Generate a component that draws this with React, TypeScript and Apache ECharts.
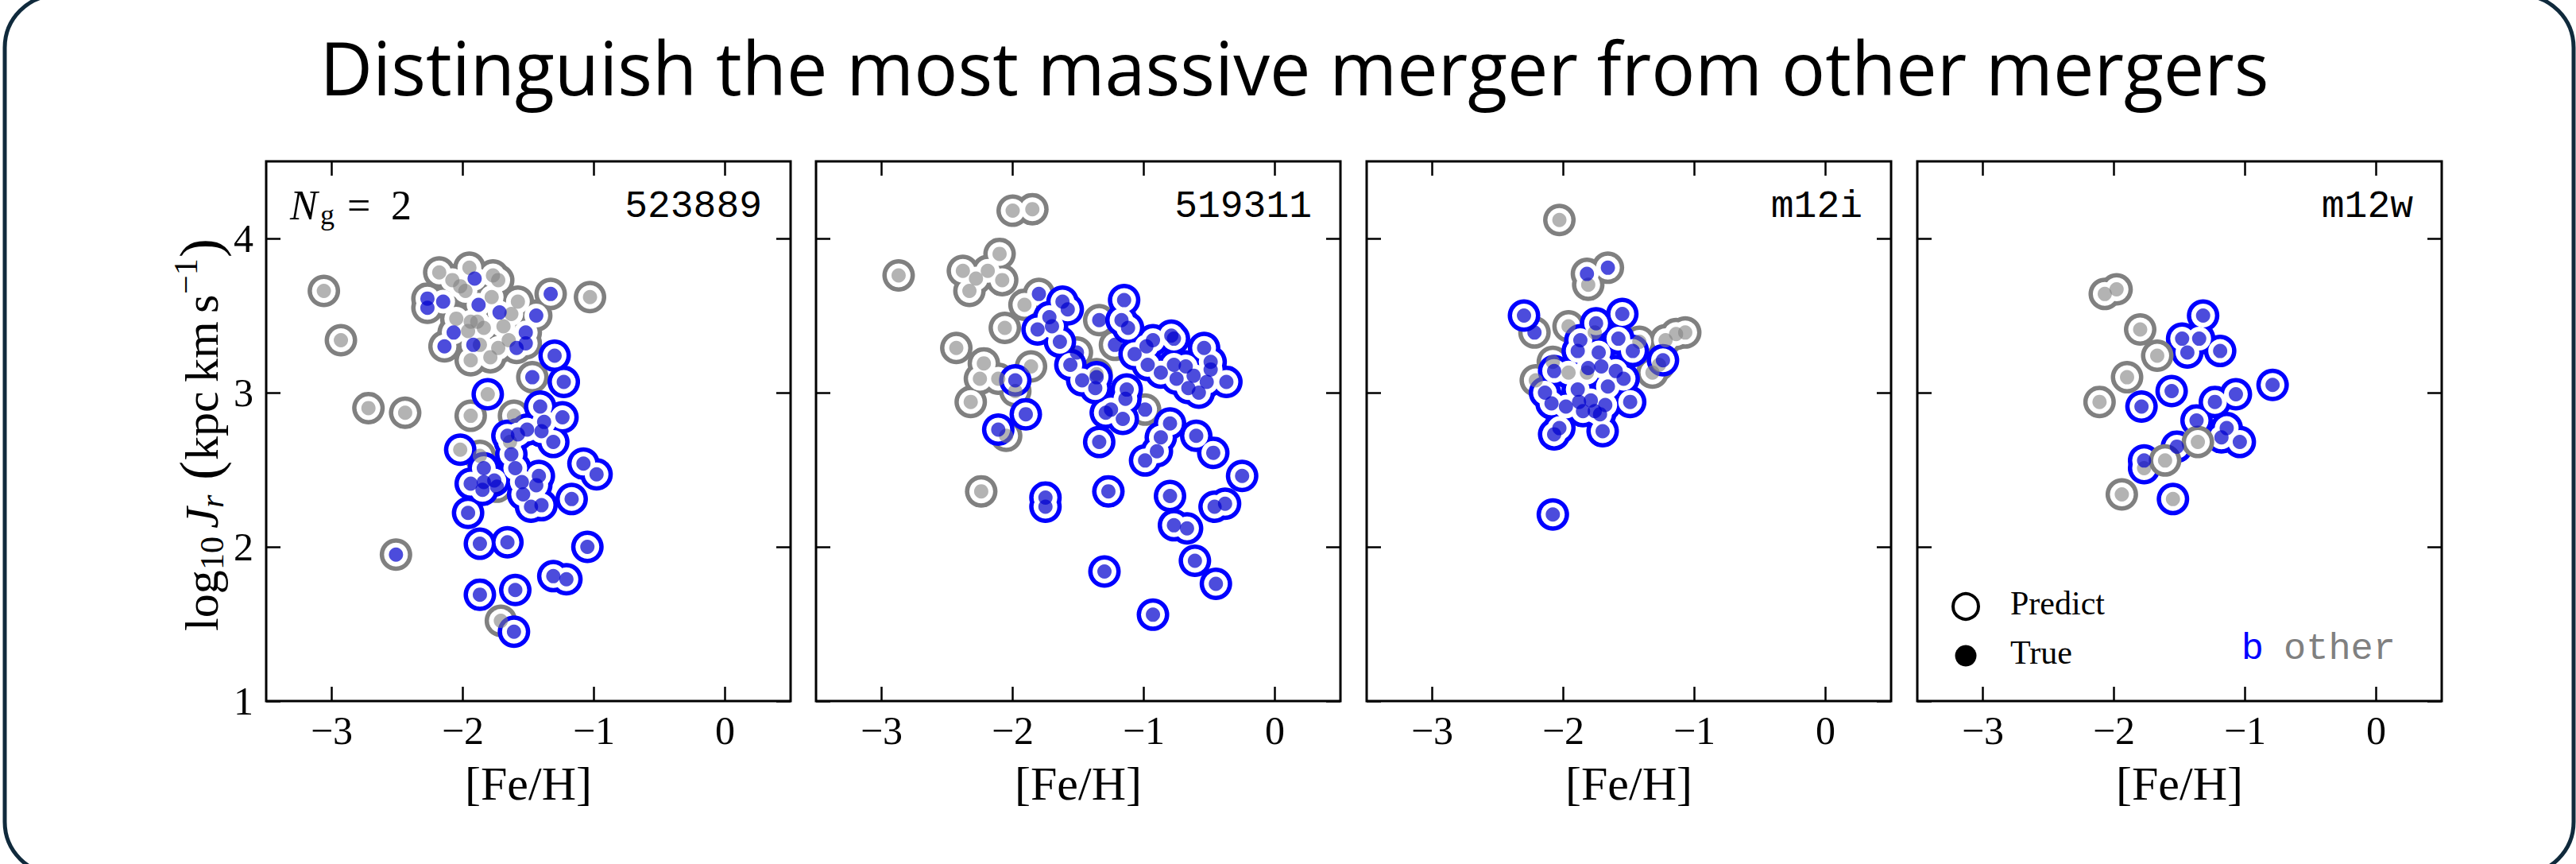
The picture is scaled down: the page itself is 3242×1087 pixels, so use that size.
import React, { useEffect, useRef } from 'react';
import * as echarts from 'echarts';

// ---------- data ----------
const panelNames = ['523889', '519311', 'm12i', 'm12w'];
const xTicks = [-3, -2, -1, 0];
const yTicks = [1, 2, 3, 4];
const classNames = ['other', 'b'];

// 523889  (pred / truth: 1 = b, 0 = other)
const feh523889 = [-3.06, -2.93, -2.72, -2.44, -2.51, -1.03, -1.33, -2.18, -1.95, -1.91,
  -1.77, -1.73, -2.08, -2.02, -1.98, -2.27, -2.15, -2.27, -1.88, -1.78,
  -1.58, -1.72, -1.63, -1.44, -2.05, -1.94, -1.89, -1.84, -1.69, -1.96,
  -2.07, -1.52, -2.14, -1.92, -1.87, -1.65, -1.73, -1.59, -1.52, -1.79,
  -1.94, -1.47, -1.94, -1.61, -1.87, -1.71, -1.74,
  -1.30, -1.23, -1.81, -1.41, -1.24, -1.38, -1.51, -1.66, -1.58, -1.40,
  -1.31, -2.02, -1.64, -1.63, -1.60, -1.84, -1.08, -0.98, -1.94, -1.84,
  -1.76, -1.85, -1.42, -1.55, -1.44, -1.54, -1.48, -1.40, -1.17, -1.96,
  -1.87, -1.66, -1.05, -1.31, -1.21, -1.87, -1.60, -1.61];
const jr523889 = [3.66, 3.34, 2.90, 2.87, 1.95, 3.62, 3.64, 3.78, 3.81, 3.74,
  3.76, 3.73, 3.73, 3.69, 3.66, 3.61, 3.59, 3.55, 3.57, 3.62,
  3.59, 3.52, 3.51, 3.50, 3.48, 3.46, 3.46, 3.42, 3.43, 3.40,
  3.39, 3.39, 3.30, 3.31, 3.31, 3.34, 3.29, 3.29, 3.32, 3.23,
  3.21, 3.10, 2.85, 2.85, 2.59, 1.52, 2.39,
  3.24, 3.07, 2.99, 2.91, 2.84, 2.81, 2.76, 2.72, 2.73, 2.75,
  2.68, 2.63, 2.68, 2.60, 2.51, 2.51, 2.54, 2.47, 2.41, 2.42,
  2.43, 2.37, 2.46, 2.42, 2.40, 2.34, 2.26, 2.27, 2.31, 2.22,
  2.02, 2.03, 2.00, 1.81, 1.79, 1.69, 1.72, 1.45];
const pred523889 = [0, 0, 0, 0, 0, 0, 0, 0, 0, 0, 0, 0, 0, 0, 0, 0, 0, 0, 0, 0,
  0, 0, 0, 0, 0, 0, 0, 0, 0, 0, 0, 0, 0, 0, 0, 0, 0, 0, 0, 0, 0, 0, 0, 0, 0, 0, 0,
  1, 1, 1, 1, 1, 1, 1, 1, 1, 1, 1, 1, 1, 1, 1, 1, 1, 1, 1, 1,
  1, 1, 1, 1, 1, 1, 1, 1, 1, 1, 1, 1, 1, 1, 1, 1, 1, 1];
const true523889 = [0, 0, 0, 0, 1, 0, 1, 0, 0, 1, 0, 0, 0, 0, 0, 1, 1, 1, 1, 0,
  0, 1, 0, 1, 0, 0, 0, 0, 0, 0, 1, 1, 1, 1, 0, 0, 0, 1, 1, 0, 0, 1, 0, 0, 0, 0, 1,
  1, 1, 0, 1, 1, 1, 1, 1, 1, 1, 1, 0, 0, 1, 1, 1, 1, 1, 1, 1,
  1, 1, 1, 1, 1, 1, 1, 1, 1, 1, 1, 1, 1, 1, 1, 1, 1, 1];

// 519311
const feh519311 = [-2.00, -1.85, -2.10, -2.87, -2.38, -2.28, -2.19, -2.08, -2.33, -1.91,
  -2.06, -2.43, -2.22, -1.86, -2.25, -2.11, -1.98, -2.32, -2.05, -2.24,
  -1.51, -1.34, -1.22, -1.36, -0.99, -1.80, -1.98, -1.90, -2.11, -1.62,
  -1.58, -1.72, -1.70, -1.81, -1.64, -1.56, -1.47, -1.36, -1.37, -1.15,
  -1.17, -1.12, -1.13, -1.14, -1.25, -1.29, -1.16, -1.34, -1.07, -0.98,
  -0.93, -0.97, -0.87, -0.79, -0.77, -0.77, -0.75, -0.68, -0.62, -0.66,
  -0.58, -0.54, -0.49, -0.49, -0.52, -0.37, -0.80, -0.87, -0.90, -0.99,
  -0.60, -0.47, -0.25, -1.75, -1.75, -1.27, -0.80, -0.46, -0.38, -0.77,
  -0.67, -0.61, -0.45, -1.30, -0.93];
const jr519311 = [4.18, 4.19, 3.90, 3.76, 3.79, 3.74, 3.79, 3.73, 3.66, 3.57,
  3.42, 3.29, 3.19, 3.17, 3.09, 3.09, 3.01, 2.94, 2.72, 2.36,
  3.26, 3.47, 3.31, 3.12, 2.89, 3.64, 3.08, 2.86, 2.76, 3.59,
  3.54, 3.49, 3.43, 3.41, 3.33, 3.18, 3.08, 3.10, 3.03, 3.60,
  3.47, 3.42, 3.02, 2.96, 2.89, 2.87, 2.83, 2.68, 3.25, 3.30,
  3.34, 3.18, 3.13, 3.37, 3.35, 3.18, 3.09, 3.17, 3.11, 3.03,
  3.00, 3.29, 3.20, 3.15, 3.07, 3.07, 2.80, 2.71, 2.62, 2.56,
  2.72, 2.61, 2.46, 2.32, 2.26, 2.36, 2.33, 2.26, 2.28, 2.14,
  2.12, 1.91, 1.76, 1.84, 1.56];
const pred519311 = [0, 0, 0, 0, 0, 0, 0, 0, 0, 0, 0, 0, 0, 0, 0, 0, 0, 0, 0, 0,
  0, 0, 0, 0, 0, 0, 1, 1, 1, 1, 1, 1, 1, 1, 1, 1, 1, 1, 1, 1,
  1, 1, 1, 1, 1, 1, 1, 1, 1, 1, 1, 1, 1, 1, 1, 1, 1, 1, 1, 1,
  1, 1, 1, 1, 1, 1, 1, 1, 1, 1, 1, 1, 1, 1, 1, 1, 1, 1, 1, 1,
  1, 1, 1, 1, 1];
const true519311 = [0, 0, 0, 0, 0, 0, 0, 0, 0, 0, 0, 0, 0, 0, 0, 0, 0, 0, 0, 0,
  1, 1, 1, 0, 1, 1, 1, 1, 1, 1, 1, 1, 1, 1, 1, 1, 1, 1, 1, 1,
  1, 1, 1, 1, 1, 1, 1, 1, 1, 1, 1, 1, 1, 1, 1, 1, 1, 1, 1, 1,
  1, 1, 1, 1, 1, 1, 1, 1, 1, 1, 1, 1, 1, 1, 1, 1, 1, 1, 1, 1,
  1, 1, 1, 1, 1];

// m12i
const fehM12i = [-2.03, -1.66, -1.82, -1.81, -2.30, -2.22, -1.55, -1.96, -1.75, -1.76,
  -1.87, -1.58, -1.42, -1.47, -1.89, -1.73, -1.22, -1.14, -1.07, -1.24,
  -1.27, -1.32, -2.07, -2.08, -1.96, -1.81, -1.82, -1.71, -1.60, -1.54,
  -1.66, -1.89, -2.21, -2.14, -2.09, -1.98, -1.88, -1.79, -1.68, -1.85,
  -1.76, -1.72, -1.49, -2.03, -2.07, -1.70, -2.08];
const jrM12i = [4.12, 3.81, 3.77, 3.70, 3.50, 3.39, 3.51, 3.43, 3.45, 3.39,
  3.34, 3.35, 3.33, 3.27, 3.27, 3.26, 3.34, 3.38, 3.39, 3.21,
  3.18, 3.13, 3.14, 3.20, 3.13, 3.16, 3.13, 3.17, 3.14, 3.09,
  3.04, 3.02, 3.08, 3.00, 2.93, 2.91, 2.94, 2.95, 2.92, 2.88,
  2.88, 2.86, 2.94, 2.77, 2.73, 2.75, 2.21];
const predM12i = [0, 0, 0, 0, 1, 0, 1, 0, 1, 0, 1, 1, 0, 1, 1, 1, 0, 0, 0, 1,
  0, 0, 1, 0, 1, 1, 1, 1, 1, 1, 1, 1, 0, 1, 1, 1, 1, 1, 1, 1,
  1, 1, 1, 1, 1, 1, 1];
const trueM12i = [0, 1, 1, 0, 1, 1, 1, 0, 1, 0, 1, 1, 0, 1, 1, 1, 0, 0, 0, 1,
  0, 0, 1, 0, 0, 1, 0, 1, 1, 1, 1, 1, 0, 1, 1, 1, 1, 1, 1, 1,
  1, 1, 1, 1, 1, 1, 1];

// m12w
const fehM12w = [-2.07, -1.98, -1.80, -1.67, -1.90, -2.11, -1.32, -1.48, -1.35, -1.44,
  -1.19, -1.56, -1.79, -0.79, -1.23, -1.07, -1.37, -1.14, -1.18, -1.04,
  -1.52, -1.77, -1.77, -1.55, -1.36, -1.61, -1.94];
const jrM12w = [3.64, 3.67, 3.41, 3.24, 3.10, 2.94, 3.50, 3.35, 3.35, 3.26,
  3.27, 3.01, 2.91, 3.05, 2.94, 2.99, 2.82, 2.77, 2.71, 2.68,
  2.65, 2.56, 2.51, 2.31, 2.68, 2.56, 2.34];
const predM12w = [0, 0, 0, 0, 0, 0, 1, 1, 1, 1, 1, 1, 1, 1, 1, 1, 1, 1, 1, 1,
  1, 1, 1, 1, 0, 0, 0];
const trueM12w = [0, 0, 0, 0, 0, 0, 1, 1, 1, 1, 1, 1, 1, 1, 1, 1, 1, 1, 1, 1,
  1, 1, 0, 0, 0, 0, 0];

const panelData = [
  { feh: feh523889, jr: jr523889, pred: pred523889, truth: true523889, ringOrder: [0, 1] },
  { feh: feh519311, jr: jr519311, pred: pred519311, truth: true519311, ringOrder: [0, 1] },
  { feh: fehM12i, jr: jrM12i, pred: predM12i, truth: trueM12i, ringOrder: [0, 1] },
  { feh: fehM12w, jr: jrM12w, pred: predM12w, truth: trueM12w, ringOrder: [1, 0] },
];

// ---------- style ----------
const RING = ['#808080', '#0000ff'];
const DOT = ['rgba(128,128,128,0.6)', 'rgba(0,0,205,0.7)'];
const SERIF = '"Liberation Serif", "Times New Roman", serif';
const MONO = '"Liberation Mono", "Courier New", monospace';
const GRID_LEFTS = [335, 1027, 1720, 2413];
const GRID_TOP = 203;
const GRID_W = 660;
const GRID_H = 679;

const fmt = (v: number) => {
  if (Math.abs(v - Math.round(v)) > 1e-9) return '';
  const r = Math.round(v);
  return r < 0 ? '\u2212' + Math.abs(r) : String(r);
};

function buildOption() {
  const grid: any[] = [];
  const xAxis: any[] = [];
  const yAxis: any[] = [];
  const series: any[] = [];
  const tick = { show: true, inside: true, length: 18, lineStyle: { color: '#000', width: 2.5 } };
  const noLine = { show: false, onZero: false };

  panelData.forEach((p, i) => {
    grid.push({
      left: GRID_LEFTS[i], top: GRID_TOP, width: GRID_W, height: GRID_H,
      show: true, borderColor: '#000', borderWidth: 3, backgroundColor: 'transparent',
      containLabel: false, outerBoundsMode: 'none',
    });
    const xBase = {
      type: 'value', gridIndex: i, min: -3.5, max: 0.5, splitNumber: 4,
      axisLine: noLine, splitLine: { show: false },
      axisTick: { ...tick, customValues: xTicks },
    };
    xAxis.push({
      ...xBase, position: 'bottom',
      axisLabel: {
        show: true, customValues: xTicks, formatter: fmt, fontFamily: SERIF, fontSize: 50,
        color: '#000', margin: 12,
      },
      name: '[Fe/H]', nameLocation: 'middle', nameGap: 74,
      nameTextStyle: { fontFamily: SERIF, fontSize: 60, color: '#000' },
    });
    xAxis.push({ ...xBase, position: 'top', axisLabel: { show: false } });
    const yBase = {
      type: 'value', gridIndex: i, min: 1, max: 4.5, interval: 1,
      axisLine: noLine, splitLine: { show: false },
      axisTick: { ...tick, customValues: yTicks },
    };
    yAxis.push({
      ...yBase, position: 'left',
      axisLabel: {
        show: i === 0, customValues: yTicks, formatter: fmt, fontFamily: SERIF, fontSize: 50,
        color: '#000', margin: 16,
      },
    });
    yAxis.push({ ...yBase, position: 'right', axisLabel: { show: false } });

    const pick = (key: 'pred' | 'truth', c: number) =>
      p.feh.map((x, k) => (p[key][k] === c ? [x, p.jr[k]] : null)).filter(Boolean);
    const common = {
      type: 'scatter', xAxisIndex: 2 * i, yAxisIndex: 2 * i, symbol: 'circle',
      silent: true, emphasis: { disabled: true }, animation: false,
    };
    p.ringOrder.forEach((c) => {
      series.push({ ...common, name: `ring-${classNames[c]}-${i}`, data: pick('pred', c), symbolSize: 41, itemStyle: { color: RING[c], opacity: 1 } });
      series.push({ ...common, name: `hole-${classNames[c]}-${i}`, data: pick('pred', c), symbolSize: 30, itemStyle: { color: '#ffffff', opacity: 1 } });
    });
    [0, 1].forEach((c) => {
      series.push({ ...common, name: `true-${classNames[c]}-${i}`, data: pick('truth', c), symbolSize: 18, itemStyle: { color: DOT[c], opacity: 1 } });
    });
  });

  const t = (text: string, x: number, y: number, extra: any = {}, elExtra: any = {}) => ({
    type: 'text', x, y, silent: true, ...elExtra,
    style: {
      text, fill: '#000', fontFamily: SERIF, fontSize: 60,
      textAlign: 'left', align: 'left', textVerticalAlign: 'middle', verticalAlign: 'middle',
      ...extra,
    },
  });

  // y-axis title, composed along the text direction, rotated 90deg
  const F = 60, S = 42;
  const yLabel = {
    type: 'group', x: 254, y: 794, rotation: Math.PI / 2, silent: true,
    children: [
      t('log', 0, 0, { fontSize: F }),
      t('10', 77, 13, { fontSize: S }),
      t('J', 129, 0, { fontSize: F, fontStyle: 'italic' }),
      t('r', 155, 13, { fontSize: S, fontStyle: 'italic' }),
      t('(', 190, -2, { fontSize: 72 }),
      t('kpc', 215, 0, { fontSize: F }),
      t('km', 313, 0, { fontSize: F }),
      t('s', 400, 0, { fontSize: F }),
      t('\u22121', 424, -20, { fontSize: S }),
      t(')', 470, -2, { fontSize: 72 }),
    ],
  };

  const graphic: any[] = [
    {
      type: 'rect', silent: true, z: -10,
      shape: { x: 6, y: -6, width: 3233, height: 1106, r: 66 },
      style: { fill: 'none', stroke: '#102a3c', lineWidth: 5 },
    },
    t('Distinguish the most massive merger from other mergers', 1629, 84,
      { fontFamily: '"Open Sans", "Noto Sans", sans-serif', fontSize: 94, textAlign: 'center', align: 'center' },
      { scaleX: 0.976 }),
    yLabel,
    t('N', 365, 258, { fontSize: 52, fontStyle: 'italic' }),
    t('g', 403, 270, { fontSize: 36 }),
    t('=', 437, 258, { fontSize: 52 }),
    t('2', 492, 258, { fontSize: 52 }),
    ...panelNames.map((n, i) =>
      t(n, GRID_LEFTS[i] + GRID_W - 36, 260, { fontFamily: MONO, fontSize: 48, textAlign: 'right', align: 'right' })),
    {
      type: 'circle', silent: true, shape: { cx: 2474, cy: 763, r: 16 },
      style: { fill: '#fff', stroke: '#000', lineWidth: 4 },
    },
    {
      type: 'circle', silent: true, shape: { cx: 2474, cy: 825, r: 13.5 },
      style: { fill: '#000' },
    },
    t('Predict', 2530, 759, { fontSize: 42 }),
    t('True', 2530, 821, { fontSize: 42 }),
    t('b', 2849, 816, { fontFamily: MONO, fontSize: 47, fill: '#0000ff', textAlign: 'right', align: 'right' }),
    t('other', 3015, 816, { fontFamily: MONO, fontSize: 47, fill: '#808080', textAlign: 'right', align: 'right' }),
  ];

  return {
    animation: false,
    backgroundColor: '#ffffff',
    grid, xAxis, yAxis, series, graphic,
  };
}

export default function App() {
  const ref = useRef<HTMLDivElement>(null);
  useEffect(() => {
    if (!ref.current) return;
    const chart = echarts.init(ref.current, null, { renderer: 'svg' });
    chart.setOption(buildOption() as any);
    return () => chart.dispose();
  }, []);
  return (
    <div
      ref={ref}
      style={{ position: 'fixed', left: 0, top: 0, width: 3242, height: 1087, background: '#fff' }}
    />
  );
}
